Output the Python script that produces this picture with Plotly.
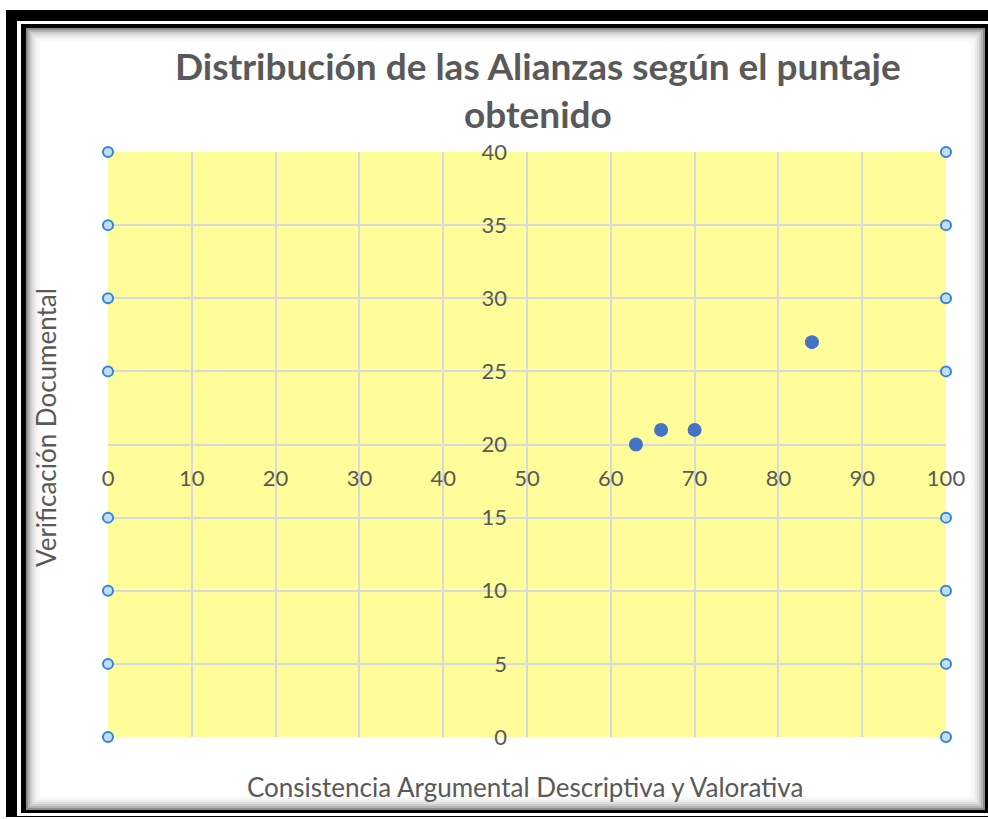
import plotly.graph_objects as go

# ---- data ----
x_vals = [63, 66, 70, 84]
y_vals = [20, 21, 21, 27]
x_ticks = [0, 10, 20, 30, 40, 50, 60, 70, 80, 90, 100]
y_ticks = [0, 5, 10, 15, 20, 25, 30, 35, 40]
handle_x = [0, 100]
handle_y = [0, 5, 10, 15, 25, 30, 35, 40]

title_text = "Distribución de las Alianzas según el puntaje<br>obtenido"
x_title = "Consistencia Argumental Descriptiva y Valorativa"
y_title = "Verificación Documental"

W, H = 988, 819
L, R, T, B = 108, 946, 152, 737


def px(x):
    return (x - L) / (R - L)


def py(y):
    return (B - y) / (B - T)


FONT = "Lato"
GRAY = "#595959"

fig = go.Figure()

fig.add_trace(go.Scatter(
    x=x_vals, y=y_vals, mode="markers",
    marker=dict(size=14, color="#4472C4"),
    showlegend=False, hoverinfo="x+y",
))

hx = [hxv for hyv in handle_y for hxv in handle_x]
hy = [hyv for hyv in handle_y for hxv in handle_x]
fig.add_trace(go.Scatter(
    x=hx, y=hy, mode="markers",
    marker=dict(size=10, color="#C5DDF2", line=dict(color="#2E86DE", width=2)),
    showlegend=False, hoverinfo="skip", cliponaxis=False,
))

shapes = []
# outer frame
shapes.append(dict(type="rect", xref="paper", yref="paper", layer="below",
                   x0=px(6), x1=px(992), y0=py(10), y1=py(817),
                   fillcolor="black", line=dict(width=0)))
shapes.append(dict(type="rect", xref="paper", yref="paper", layer="below",
                   x0=px(17), x1=px(992), y0=py(21), y1=py(816),
                   fillcolor="white", line=dict(width=0)))
shapes.append(dict(type="rect", xref="paper", yref="paper", layer="below",
                   x0=px(21), x1=px(988), y0=py(24), y1=py(813),
                   fillcolor="black", line=dict(width=0)))
shapes.append(dict(type="rect", xref="paper", yref="paper", layer="below",
                   x0=px(26), x1=px(985), y0=py(28), y1=py(810),
                   fillcolor="white", line=dict(width=0)))
# inset shadow
for i, a in enumerate([0.45, 0.3, 0.2, 0.13, 0.08, 0.04, 0.02]):
    o = 1 + 2 * i
    shapes.append(dict(type="rect", xref="paper", yref="paper", layer="below",
                       x0=px(26 + o), x1=px(985 - o), y0=py(28 + o), y1=py(810 - o),
                       fillcolor="rgba(0,0,0,0)",
                       line=dict(width=2, color=f"rgba(0,0,0,{a})")))
# plot area fill (axis-referenced, below gridlines)
shapes.append(dict(type="rect", xref="x", yref="y", layer="below",
                   x0=x_ticks[0], x1=x_ticks[-1], y0=y_ticks[0], y1=y_ticks[-1],
                   fillcolor="#FFFD99", line=dict(width=0)))

fig.update_layout(
    width=W, height=H,
    margin=dict(l=L, r=W - R, t=T, b=H - B),
    paper_bgcolor="white",
    plot_bgcolor="#FFFD99",
    shapes=shapes,
    font=dict(family=FONT, color=GRAY),
    xaxis=dict(range=[0, 100], tickvals=x_ticks, anchor="free", position=0.5,
               showgrid=True, gridcolor="#D9D9D9", gridwidth=1.5,
               showline=False, zeroline=False,
               tickfont=dict(size=22, color=GRAY, family=FONT),
               ticks="", ticklabelstandoff=18, fixedrange=True),
    yaxis=dict(range=[0, 40], tickvals=y_ticks, anchor="free", position=0.5,
               showgrid=True, gridcolor="#D9D9D9", gridwidth=1.5,
               showline=False, zeroline=False,
               tickfont=dict(size=22, color=GRAY, family=FONT),
               ticks="", ticklabelstandoff=20, fixedrange=True),
    annotations=[
        dict(text="<b>" + title_text + "</b>", xref="paper", yref="paper",
             x=px(538), y=py(90), showarrow=False, xanchor="center",
             yanchor="middle", font=dict(size=37, color=GRAY, family=FONT)),
        dict(text=x_title, xref="paper", yref="paper", x=px(525), y=py(787),
             showarrow=False, xanchor="center", yanchor="middle",
             font=dict(size=26, color=GRAY, family=FONT)),
        dict(text=y_title, xref="paper", yref="paper", x=px(46), y=py(428),
             showarrow=False, xanchor="center", yanchor="middle", textangle=-90,
             font=dict(size=26, color=GRAY, family=FONT)),
    ],
)

fig.write_html("out.html", config={"displayModeBar": False},
               post_script="document.body.style.margin='0';")
